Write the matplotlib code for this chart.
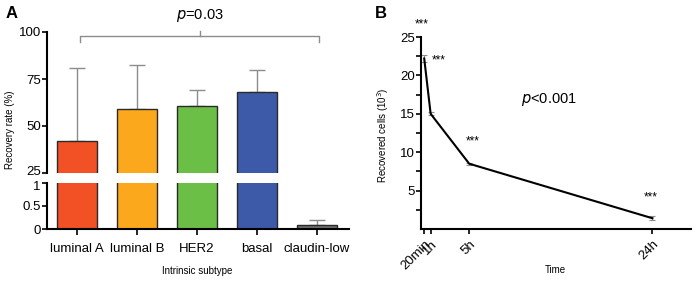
import matplotlib
matplotlib.use("Agg")
import matplotlib.pyplot as plt
import matplotlib.transforms as mtransforms
import numpy as np

plt.rcParams['font.family'] = ['Liberation Sans', 'DejaVu Sans']

# Panel A data
subtypes = ["luminal A", "luminal B", "HER2", "basal", "claudin-low"]
recovery = [42, 59, 60.6, 68, 0.08]
recovery_err = [39, 23.4, 8.4, 11.6, 0.11]
bar_colors = ["#F15125", "#FBA81D", "#6BBF47", "#3D5AA8", "#6E6E6E"]

# Panel B data
time_h = [1/3, 1, 5, 24]
time_labels = ["20min", "1h", "5h", "24h"]
cells = [22.2, 15.0, 8.5, 1.4]
cells_err = [0.4, 0.2, 0.15, 0.25]

W, H = 700, 284
fig = plt.figure(figsize=(7, 2.84), dpi=100)

def fx(px): return px / W
def fy(py): return 1 - py / H

fs = 9.5
gray = "#8c8c8c"

# Panel A axes
axT = fig.add_axes([fx(47), fy(173), fx(302), (173 - 32) / H])
axB = fig.add_axes([fx(47), fy(229), fx(302), (229 - 183) / H])
x = np.arange(len(subtypes))
for ax in (axT, axB):
    ax.bar(x, recovery, width=0.667, color=bar_colors, edgecolor="#2a2a2a", linewidth=1.0, zorder=2)
    ax.errorbar(x, recovery, yerr=[np.zeros(len(x)), recovery_err], fmt="none",
                ecolor=gray, elinewidth=1.0, capsize=6, capthick=1.0, zorder=1)
    ax.set_xlim(-0.5, 4.53)
    for s in ("top", "right"):
        ax.spines[s].set_visible(False)
    ax.spines["left"].set_linewidth(1.5)
    ax.tick_params(axis="y", labelsize=fs, width=1.2, length=3.5, pad=1)

axT.set_ylim(25, 100)
axT.set_yticks([25, 50, 75, 100])
axT.spines["bottom"].set_visible(False)
axT.set_xticks([])
axB.set_ylim(0, 1)
axB.set_yticks([0, 0.5, 1])
axB.set_yticklabels(["0", "0.5", "1"])
axB.spines["bottom"].set_linewidth(1.5)
axB.set_xticks(x)
axB.set_xticklabels(subtypes)
axB.tick_params(axis="x", labelsize=fs, width=1.2, length=4, pad=6)

# nudge the adjacent "25" and "1" labels apart slightly
lbl25 = axT.get_yticklabels()[0]
lbl25.set_transform(lbl25.get_transform() + mtransforms.ScaledTranslation(0, 1.5 / 72, fig.dpi_scale_trans))
lbl1 = axB.get_yticklabels()[-1]
lbl1.set_transform(lbl1.get_transform() + mtransforms.ScaledTranslation(0, -1.5 / 72, fig.dpi_scale_trans))

fig.text(fx(10), fy(130), "Recovery rate (%)", rotation=90, ha="center", va="center", fontsize=7)
fig.text(fx(197), fy(271), "Intrinsic subtype", ha="center", va="center", fontsize=7)
fig.text(fx(12), fy(14), "A", fontsize=12, fontweight="bold", ha="center", va="center")

# bracket
yb0, yb1 = fy(42), fy(36)
xL, xR, xM = fx(80), fx(319), fx(200)
fig.add_artist(plt.Line2D([xL, xL, xR, xR], [yb0, yb1, yb1, yb0], color=gray, lw=1.0))
fig.add_artist(plt.Line2D([xM, xM], [yb1, fy(31)], color=gray, lw=1.0))
fig.text(xM, fy(15), r"$\it{p}$=0.03", ha="center", va="center", fontsize=10.5)

# Panel B
axC = fig.add_axes([fx(421), fy(229), fx(270), (229 - 37) / H])
axC.errorbar(time_h, cells, yerr=cells_err, color="black", lw=1.5, ecolor=gray,
             elinewidth=0.8, capsize=2, capthick=0.8)
axC.set_xlim(0, 28)
axC.set_ylim(0, 25)
axC.set_yticks(np.arange(2.5, 25.1, 2.5))
axC.set_yticklabels(["" if (v % 5) else str(int(v)) for v in np.arange(2.5, 25.1, 2.5)])
axC.set_xticks(time_h)
axC.set_xticklabels(time_labels, rotation=45, ha="right", rotation_mode="anchor")
for s in ("top", "right"):
    axC.spines[s].set_visible(False)
for s in ("left", "bottom"):
    axC.spines[s].set_linewidth(1.5)
axC.tick_params(axis="both", labelsize=fs, width=1.2, length=3.5, pad=1)
axC.tick_params(axis="x", pad=3)

star_pos = [(422, 24), (439, 60), (473, 141), (651, 197)]
for (px, py) in star_pos:
    fig.text(fx(px), fy(py), "***", ha="center", va="center", fontsize=8.5)

fig.text(fx(549), fy(99), r"$\it{p}$<0.001", ha="center", va="center", fontsize=10.5)
fig.text(fx(383), fy(135), r"Recovered cells (10$^3$)", rotation=90, ha="center", va="center", fontsize=7)
fig.text(fx(555), fy(270), "Time", ha="center", va="center", fontsize=7)
fig.text(fx(381), fy(14), "B", fontsize=12, fontweight="bold", ha="center", va="center")

fig.savefig("out.png", dpi=100)
